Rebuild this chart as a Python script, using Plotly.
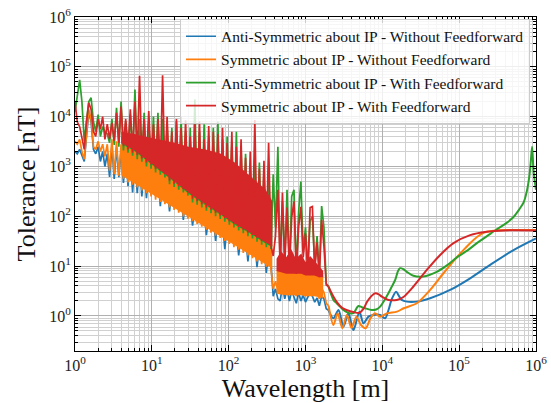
import plotly.graph_objects as go

# ---------------- data ----------------
wavelength_noisy = [
    1.00, 1.07, 1.15, 1.23, 1.32, 1.41, 1.51, 1.62, 1.74, 1.86,
    2.00, 2.14, 2.29, 2.45, 2.63, 2.82, 3.02, 3.24, 3.47, 3.72,
    3.98, 4.27, 4.57, 4.90, 5.25, 5.62, 6.03, 6.46, 6.92, 7.41,
    7.94, 8.51, 9.12, 9.77, 10.5, 11.2, 12.0, 12.9, 13.8, 14.8,
    15.8, 17.0, 18.2, 19.5, 20.9, 22.4, 24.0, 25.7, 27.5, 29.5,
    31.6, 33.9, 36.3, 38.9, 41.7, 44.7, 47.9, 51.3, 55.0, 58.9,
    63.1, 67.6, 72.4, 77.6, 83.2, 89.1, 95.5, 102, 110, 117,
    126, 135, 145, 155, 166, 178, 191, 204, 219, 234,
    251, 269, 288, 309, 331, 355, 380, 407, 437, 468,
    501, 537, 575, 617, 661, 708, 759, 813, 871, 933,
    1000, 1072, 1148, 1230, 1318, 1413, 1514, 1622, 1738, 1862,
    1995,
]

blue_noisy = [
    2000, 1800, 2200, 1600, 1260, 4000, 12600, 7900, 2200, 1800,
    2500, 1260, 2000, 1000, 1800, 620, 2600, 560, 2400, 610,
    2100, 470, 1900, 400, 1700, 300, 1500, 290, 1300, 250,
    1000, 230, 900, 325, 780, 280, 680, 160, 600, 230,
    440, 125, 390, 175, 340, 155, 300, 85, 260, 117,
    190, 65, 170, 91, 150, 81, 130, 42, 115, 61,
    100, 32, 88, 48, 78, 22, 68, 36, 60, 31,
    52, 16.5, 46, 24, 40, 12.5, 36, 19, 31, 9.5,
    27, 14.3, 24, 7.3, 22, 11.5, 2.5, 3.5, 2.2, 2.0,
    4, 2.2, 3.5, 2.0, 3.2, 2.4, 1.8, 3, 2, 2.6,
    1.9, 2.4, 2.8, 2.5, 1.9, 2.3, 1.6, 2.5, 2.2, 1.4,
    1.3,
]

orange_noisy = [
    3200, 2800, 3500, 2000, 1400, 5000, 14000, 8900, 2500, 2200,
    3200, 2000, 2800, 1600, 2800, 820, 3500, 700, 3200, 650,
    2800, 570, 2500, 480, 2200, 430, 1900, 380, 1700, 330,
    1300, 290, 1150, 250, 1000, 215, 880, 195, 780, 175,
    580, 150, 510, 135, 440, 118, 390, 100, 340, 90,
    250, 80, 220, 70, 195, 62, 170, 54, 150, 47,
    130, 41, 115, 37, 100, 32, 88, 28, 77, 24,
    68, 21.5, 60, 18.5, 52, 16.5, 46, 14.5, 40, 12.5,
    35, 11, 31, 9.8, 28, 8.8, 3.5, 5, 3.2, 2.8,
    6, 3.0, 5, 2.6, 4.5, 3.2, 2.5, 4.2, 2.8, 3.5,
    2.5, 3.3, 4, 3.5, 2.6, 3.2, 2.2, 3.6, 3, 1.8,
    1.6,
]

green_noisy = [
    12600, 25000, 55000, 20000, 3200, 7900, 20000, 24000, 7900, 5000,
    11000, 4000, 6300, 5000, 4500, 3000, 9000, 2700, 15000, 2500,
    20000, 2100, 8000, 1900, 11000, 1650, 35000, 1400, 9000, 1250,
    12000, 1000, 8000, 900, 10000, 760, 12000, 680, 9000, 600,
    7000, 440, 6000, 390, 8000, 340, 10000, 300, 5000, 260,
    6000, 190, 22000, 170, 5000, 150, 7000, 130, 4000, 115,
    6000, 100, 8000, 88, 3500, 78, 4000, 68, 3000, 60,
    5000, 52, 2500, 46, 1800, 40, 1000, 36, 1500, 31,
    1200, 27, 800, 24, 900, 22, 700, 60, 2500, 10,
    200, 12, 340, 9, 250, 340, 8, 120, 500, 20,
    60, 9, 80, 100, 10, 40, 7, 160, 60, 4.5,
    3.9,
]

red_noisy = [
    20000, 7900, 6300, 4000, 2200, 7900, 19000, 14000, 5000, 4000,
    8900, 5600, 10000, 3500, 7100, 3600, 7500, 3300, 12000, 3000,
    16000, 2600, 9000, 2200, 14000, 1900, 20000, 1700, 66000, 1450,
    9000, 1200, 13000, 1100, 7000, 900, 9000, 820, 68000, 700,
    10000, 520, 5000, 450, 9000, 400, 6000, 350, 8500, 300,
    4000, 225, 7000, 200, 8000, 175, 3500, 150, 6500, 135,
    5000, 118, 4500, 104, 6000, 92, 3000, 80, 5000, 70,
    2500, 61, 3500, 54, 1500, 47, 2000, 42, 8600, 37,
    900, 32, 1300, 29, 3000, 26, 16, 40, 340, 9,
    300, 10, 150, 8, 95, 200, 7, 60, 155, 15,
    45, 7, 150, 157, 8, 30, 6, 85, 25, 4.2,
    3.9,
]

# dense-oscillation bands (lower / upper edge of the solid-looking regions)
band_wl = [4, 6, 8, 12, 20, 30, 50, 80, 120, 200, 300, 370]
orange_band_low = [670, 450, 346, 236, 144, 98, 60, 39, 26, 16, 11, 9]
orange_band_high = [3300, 2300, 1650, 1000, 550, 330, 190, 120, 80, 50, 33, 27]
green_band_low = [2850, 2000, 1420, 880, 475, 285, 166, 105, 68, 43, 28.5, 24]
green_band_high = [4000, 3500, 3200, 2800, 2400, 2000, 1700, 1400, 900, 450, 270, 150]
red_band_low = [3000, 2100, 1500, 930, 500, 300, 175, 110, 72, 45, 30, 25]
red_band_high = [5000, 4500, 4000, 3500, 3000, 2500, 2200, 1800, 1200, 600, 350, 200]

band2_wl = [420, 480, 560, 650, 750, 880, 1000, 1150, 1300, 1500, 1700]
orange_band2_low = [2.8, 2.7, 2.6, 2.6, 2.6, 2.6, 2.5, 2.5, 2.5, 2.4, 2.3]
orange_band2_high = [8.5, 8, 7.5, 7.5, 7.5, 7.5, 7, 7, 7, 6.5, 6.5]
red_band2_low = [8, 7.5, 7, 7, 7, 7, 6.5, 6.5, 6.5, 6, 6]
red_band2_high = [14, 20, 15, 22, 14, 18, 12, 16, 13, 10, 8]

blue_smooth_wl = [1995, 2310, 2690, 3120, 3620, 4210, 5040, 5680, 6600, 7670,
                  9360, 10900, 12000, 13300, 15100, 16500, 17900, 20800, 28100,
                  41900, 76300, 139000, 253000, 510000, 1000000]
blue_smooth = [1.3, 0.90, 1.32, 0.61, 1.13, 0.52, 1.22, 0.71, 0.97, 1.05,
               1.05, 0.90, 1.3, 2.2, 3.08, 2.5, 2.10, 1.94, 1.94,
               2.27, 3.33, 5.7, 10.6, 21, 36]

orange_smooth_wl = [1995, 2310, 2620, 3020, 3460, 3980, 4590, 5280, 6080, 7000,
                    8000, 9360, 11500, 15500, 19000, 28100, 41900, 62500, 93000,
                    120000, 155000, 210000, 300000, 500000, 1000000]
orange_smooth = [1.6, 0.66, 1.13, 0.57, 1.05, 0.57, 0.97, 0.66, 0.57, 0.90,
                 1.13, 0.97, 1.13, 1.22, 1.43, 1.8, 3.33, 7.2, 15,
                 23, 34, 47, 52, 53, 53]

green_smooth_wl = [1995, 2310, 2550, 3120, 3450, 3900, 4250, 4650, 4900, 5400,
                   5970, 7300, 8300, 9360, 10500, 12000, 13300, 14700, 16000,
                   17000, 18500, 20800, 25400, 34300, 51000, 70000, 93300,
                   130000, 170000, 230000, 309000, 410000, 513000, 600000,
                   690000, 760000, 820000, 860000, 890000, 930000, 1000000]
green_smooth = [3.9, 2.1, 1.8, 1.32, 1.2, 1.12, 1.15, 1.45, 1.59, 1.5,
                1.43, 1.32, 1.35, 1.54, 2.0, 2.85, 3.9, 5.3, 8,
                9.1, 8.8, 7.7, 6.4, 6.2, 7.7, 10.5, 15,
                21, 29, 40, 55, 73, 98, 135,
                190, 320, 650, 1400, 2500, 800, 340]

red_smooth_wl = [1995, 2090, 2560, 3000, 3500, 4200, 5000, 5700, 6300, 7200,
                 8050, 9000, 9840, 12000, 15400, 18800, 25400, 37900, 56600,
                 84400, 139000, 229000, 378000, 1000000]
red_smooth = [3.9, 3.3, 1.9, 1.45, 1.3, 1.2, 1.15, 1.4, 1.9, 2.5,
              2.85, 2.7, 2.44, 2.1, 2.1, 2.4, 3.9, 8.4, 16.8,
              29, 42, 49, 52, 52]

series_names = [
    "Anti-Symmetric about IP - Without Feedforward",
    "Symmetric about IP - Without Feedforward",
    "Anti-Symmetric about IP - With Feedforward",
    "Symmetric about IP - With Feedforward",
]
series_colors = ["#1f77b4", "#ff7f0e", "#2ca02c", "#d62728"]
noisy_values = [blue_noisy, orange_noisy, green_noisy, red_noisy]
bands = [
    [],
    [(band_wl, orange_band_low, orange_band_high),
     (band2_wl, orange_band2_low, orange_band2_high)],
    [(band_wl, green_band_low, green_band_high)],
    [(band_wl, red_band_low, red_band_high),
     (band2_wl, red_band2_low, red_band2_high)],
]
smooth_wl = [blue_smooth_wl, orange_smooth_wl, green_smooth_wl, red_smooth_wl]
smooth_values = [blue_smooth, orange_smooth, green_smooth, red_smooth]

x_tick_vals = [1, 10, 100, 1000, 10000, 100000, 1000000]
x_tick_text = ["10<sup>%d</sup>" % k for k in range(7)]
y_tick_vals = [1, 10, 100, 1000, 10000, 100000, 1000000]
y_tick_text = ["10<sup>%d</sup>" % k for k in range(7)]

# ---------------- figure ----------------
FONT = "Liberation Serif"
fig = go.Figure()
for name, color, yn, bl, xs, ys in zip(series_names, series_colors, noisy_values,
                                        bands, smooth_wl, smooth_values):
    for bwl, blo, bhi in bl:
        fig.add_trace(go.Scatter(x=bwl + bwl[::-1], y=bhi + blo[::-1],
                                 mode="lines", fill="toself", fillcolor=color,
                                 line=dict(color=color, width=0),
                                 legendgroup=name, showlegend=False,
                                 hoverinfo="skip"))
    fig.add_trace(go.Scatter(x=wavelength_noisy, y=yn, mode="lines", name=name,
                             legendgroup=name,
                             line=dict(color=color, width=1.7)))
    fig.add_trace(go.Scatter(x=xs, y=ys, mode="lines", name=name,
                             legendgroup=name, showlegend=False,
                             line=dict(color=color, width=2, shape="spline",
                                       smoothing=0.8)))

minor_x = [k * 10 ** d for d in range(0, 6) for k in range(2, 10)]
minor_y = [k * 10.0 ** d for d in range(-1, 6) for k in range(2, 10)]

axis_common = dict(
    type="log", showline=True, linecolor="black", linewidth=1, mirror="allticks",
    ticks="inside", ticklen=6, tickwidth=1, tickcolor="black",
    showgrid=True, gridcolor="#b0b0b0", gridwidth=1, zeroline=False,
    automargin=False,
    tickfont=dict(family=FONT, size=16, color="#222"),
)

fig.update_layout(
    width=551, height=403,
    margin=dict(l=75, r=15, t=17, b=52),
    paper_bgcolor="white", plot_bgcolor="white",
    font=dict(family=FONT, color="#111"),
    xaxis=dict(**axis_common, range=[0, 6], tickmode="array",
               tickvals=x_tick_vals, ticktext=x_tick_text,
               minor=dict(tickmode="array", tickvals=minor_x, ticks="inside",
                          ticklen=3, tickcolor="black", showgrid=True,
                          gridcolor="#d0d0d0", gridwidth=1),
               title=dict(text="Wavelength [m]", font=dict(family=FONT, size=26),
                          standoff=4)),
    yaxis=dict(**axis_common, range=[-0.703, 6.0], tickmode="array",
               tickvals=y_tick_vals, ticktext=y_tick_text,
               minor=dict(tickmode="array", tickvals=minor_y, ticks="inside",
                          ticklen=3, tickcolor="black", showgrid=True,
                          gridcolor="#d0d0d0", gridwidth=1),
               title=dict(text="Tolerance [nT]", font=dict(family=FONT, size=26),
                          standoff=6)),
    legend=dict(x=0.987, y=0.995, xanchor="right", yanchor="top",
                bgcolor="rgba(255,255,255,0.8)", bordercolor="#cccccc",
                borderwidth=1, font=dict(family=FONT, size=15.5, color="#111"),
                tracegroupgap=0, itemwidth=30),
    showlegend=True,
)

fig.write_html("out.html")
